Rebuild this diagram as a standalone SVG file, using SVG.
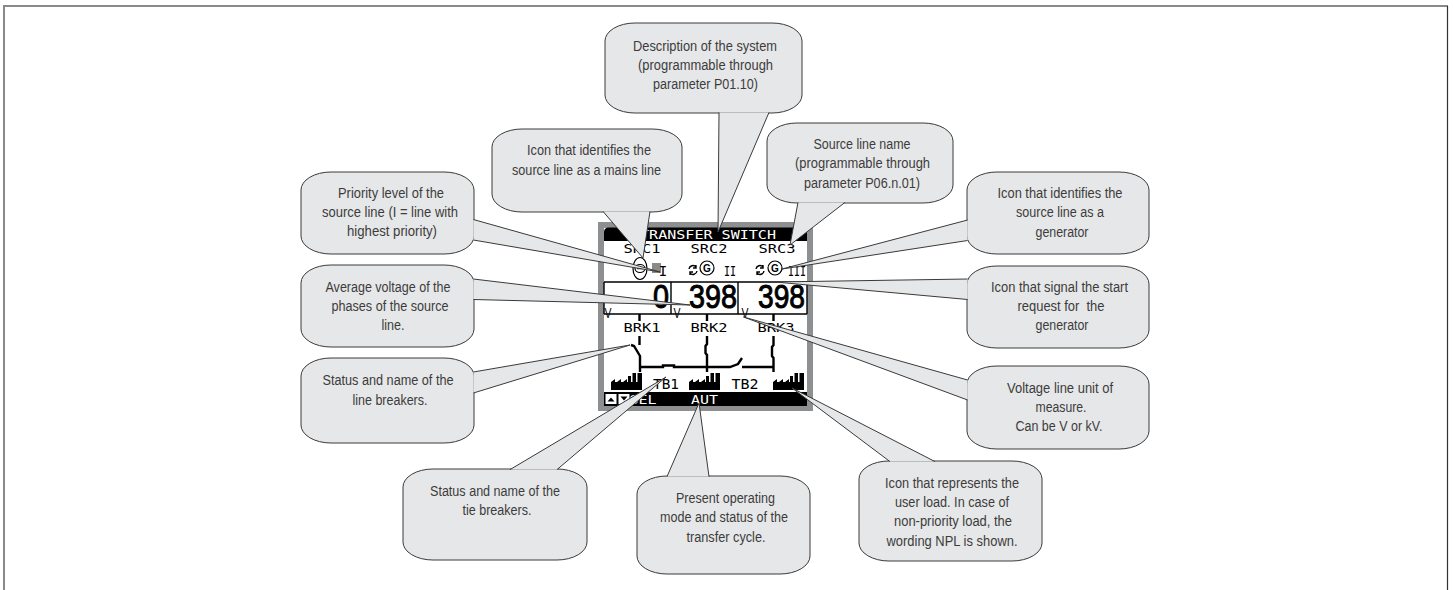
<svg xmlns="http://www.w3.org/2000/svg" width="1453" height="590" viewBox="0 0 1453 590">
<style>
.body{fill:#e6e7e8;stroke:#3a3a3a;stroke-width:1}
.wedge{fill:#e6e7e8;stroke:#3a3a3a;stroke-width:1;stroke-linejoin:miter}
.t{font-family:"Liberation Sans Narrow","Liberation Sans",sans-serif;font-size:14px;fill:#3c3c3c;text-anchor:middle}
.m{font-family:"DejaVu Sans Mono","Liberation Mono",monospace;font-size:12px;fill:#000;text-anchor:middle}
.m13{font-size:13px}
.m14{font-size:14px}
.w{fill:#fff}
.n{font-family:"Liberation Sans",sans-serif;font-size:34px;fill:#000;stroke:#000;stroke-width:1;text-anchor:end}
.v{font-family:"Liberation Sans",sans-serif;font-size:14px;fill:#000;text-anchor:middle}
.g{font-family:"Liberation Sans",sans-serif;font-size:10px;font-weight:700;fill:#000;text-anchor:middle}
.l{fill:none;stroke:#000;stroke-width:1.4}
.b{fill:none;stroke:#000;stroke-width:2.4}
</style>
<defs>
<path id="factory" d="M0 17V9L4 6V9H6L10 6V9H12L16 6V9H17V3H20V9H21.500V0H25V9H26.500V0H31V17Z" fill="#000"/>
<path id="rot" d="M-4 -1A4 4 0 0 1 3 -3M3 -5V-2H0M4 1A4 4 0 0 1 -3 3M-3 5V2H0" fill="none" stroke="#000" stroke-width="1.4"/>
</defs>

<g id="frame">
<path d="M4 590V6H1448" fill="none" stroke="#8a8a8a" stroke-width="2"/>
<path d="M1447.500 6V590" fill="none" stroke="#333" stroke-width="1.2"/>
</g>

<g id="lcd">
<rect x="598" y="222" width="215" height="189" fill="#8e8f91"/>
<rect x="604" y="228" width="203" height="178" fill="#fff"/>
<path d="M609 227.500H802Q807 227.500 807 232V241H604V232Q604 227.500 609 227.500Z" fill="#000"/>
<text class="m w" x="708" y="239" textLength="136" lengthAdjust="spacingAndGlyphs">TRANSFER SWITCH</text>
<text class="m" x="642" y="253" textLength="37" lengthAdjust="spacingAndGlyphs">SRC1</text>
<text class="m" x="709" y="253" textLength="37" lengthAdjust="spacingAndGlyphs">SRC2</text>
<text class="m" x="777" y="253" textLength="37" lengthAdjust="spacingAndGlyphs">SRC3</text>
<ellipse cx="640" cy="268.500" rx="7" ry="11" fill="#fff" stroke="#000" stroke-width="1.2"/>
<ellipse cx="640" cy="268.500" rx="5" ry="4" fill="none" stroke="#000" stroke-width="1.2"/>
<path d="M637 268.500H643" stroke="#000" stroke-width="1.400"/>
<rect x="652" y="263" width="9" height="10" fill="#8a8a8a"/>
<text class="m m14" x="663" y="276">I</text>
<use href="#rot" x="693" y="270"/>
<circle cx="707" cy="268" r="7" fill="#fff" stroke="#000" stroke-width="1.2"/>
<text class="g" x="707" y="272">G</text>
<text class="m m14" x="730" y="276" textLength="12" lengthAdjust="spacingAndGlyphs">II</text>
<use href="#rot" x="760" y="270"/>
<circle cx="775" cy="268" r="7" fill="#fff" stroke="#000" stroke-width="1.2"/>
<text class="g" x="775" y="272">G</text>
<text class="m m14" x="797" y="276" textLength="18" lengthAdjust="spacingAndGlyphs">III</text>
<path class="l" d="M604 282H807V314M671 282V314M738 282V314M604 282V314M604 314H807"/>
<text class="n" x="669" y="308" textLength="16" lengthAdjust="spacingAndGlyphs">0</text>
<text class="n" x="737" y="308" textLength="48" lengthAdjust="spacingAndGlyphs">398</text>
<text class="n" x="805" y="308" textLength="47" lengthAdjust="spacingAndGlyphs">398</text>
<text class="v" x="608" y="318" textLength="7" lengthAdjust="spacingAndGlyphs">V</text>
<text class="v" x="677" y="318" textLength="7" lengthAdjust="spacingAndGlyphs">V</text>
<text class="v" x="745" y="318" textLength="7" lengthAdjust="spacingAndGlyphs">V</text>
<text class="m m13" x="642" y="332" textLength="37" lengthAdjust="spacingAndGlyphs">BRK1</text>
<text class="m m13" x="709" y="332" textLength="37" lengthAdjust="spacingAndGlyphs">BRK2</text>
<text class="m m13" x="776" y="332" textLength="37" lengthAdjust="spacingAndGlyphs">BRK3</text>
<path class="b" d="M639.500 314V321M639.500 336V345M631 345L634 346L640 356V372"/>
<path class="b" d="M707 314V321M707 336V344L705.500 346V353L707 355V372"/>
<path class="b" d="M773.500 314V321M773.500 336V345L772 347V356L773.500 358V372"/>
<path class="b" d="M640 367H663V365.500H674V367H730L738 364L742 358M742 367H773.500"/>
<use href="#factory" x="611" y="373"/>
<use href="#factory" x="689" y="373"/>
<use href="#factory" x="773" y="373"/>
<text class="m m14" x="666" y="389" textLength="26" lengthAdjust="spacingAndGlyphs">TB1</text>
<text class="m m14" x="745" y="389" textLength="27" lengthAdjust="spacingAndGlyphs">TB2</text>
<rect x="604" y="392" width="203" height="14" fill="#000"/>
<rect x="605.500" y="394" width="11" height="10" fill="#fff"/>
<path d="M607.500 401.500L611 397.500L614.500 401.500Z" fill="#000"/>
<rect x="618.500" y="394" width="11" height="10" fill="#fff"/>
<path d="M620.500 396.500L624 400.500L627.500 396.500Z" fill="#000"/>
<text class="m m13 w" x="643" y="403.500" textLength="27" lengthAdjust="spacingAndGlyphs">SEL</text>
<text class="m m13 w" x="704.500" y="403.500" textLength="27" lengthAdjust="spacingAndGlyphs">AUT</text>
</g>

<g id="node-description">
<path class="body" d="M635 23H772A30 18 0 0 1 802 41V95A30 18 0 0 1 772 113H635A30 18 0 0 1 605 95V41A30 18 0 0 1 635 23Z"/>
<text class="t" x="705" y="51" textLength="144" lengthAdjust="spacingAndGlyphs">Description of the system</text>
<text class="t" x="705.500" y="70" textLength="135" lengthAdjust="spacingAndGlyphs">(programmable through</text>
<text class="t" x="705.500" y="89" textLength="105" lengthAdjust="spacingAndGlyphs">parameter P01.10)</text>
</g>
<g id="node-mains">
<path class="body" d="M522 129H652A30 18 0 0 1 682 147V194A30 18 0 0 1 652 212H522A30 18 0 0 1 492 194V147A30 18 0 0 1 522 129Z"/>
<text class="t" x="589" y="155" textLength="124" lengthAdjust="spacingAndGlyphs">Icon that identifies the</text>
<text class="t" x="586.500" y="175" textLength="149" lengthAdjust="spacingAndGlyphs">source line as a mains line</text>
</g>
<g id="node-source-name">
<path class="body" d="M797 123H923A30 18 0 0 1 953 141V185A30 18 0 0 1 923 203H797A30 18 0 0 1 767 185V141A30 18 0 0 1 797 123Z"/>
<text class="t" x="862" y="149" textLength="97" lengthAdjust="spacingAndGlyphs">Source line name</text>
<text class="t" x="862.500" y="168" textLength="135" lengthAdjust="spacingAndGlyphs">(programmable through</text>
<text class="t" x="862" y="188" textLength="116" lengthAdjust="spacingAndGlyphs">parameter P06.n.01)</text>
</g>
<g id="node-priority">
<path class="body" d="M331 172H444A30 18 0 0 1 474 190V236A30 18 0 0 1 444 254H331A30 18 0 0 1 301 236V190A30 18 0 0 1 331 172Z"/>
<text class="t" x="391" y="198" textLength="106" lengthAdjust="spacingAndGlyphs">Priority level of the</text>
<text class="t" x="390" y="217" textLength="136" lengthAdjust="spacingAndGlyphs">source line (I = line with</text>
<text class="t" x="392" y="236" textLength="90" lengthAdjust="spacingAndGlyphs">highest priority)</text>
</g>
<g id="node-average">
<path class="body" d="M331 265H444A30 18 0 0 1 474 283V329A30 18 0 0 1 444 347H331A30 18 0 0 1 301 329V283A30 18 0 0 1 331 265Z"/>
<text class="t" x="388" y="292" textLength="125" lengthAdjust="spacingAndGlyphs">Average voltage of the</text>
<text class="t" x="390" y="311" textLength="117" lengthAdjust="spacingAndGlyphs">phases of the source</text>
<text class="t" x="393" y="330" textLength="23" lengthAdjust="spacingAndGlyphs">line.</text>
</g>
<g id="node-line-breakers">
<path class="body" d="M331 358H444A30 18 0 0 1 474 376V425A30 18 0 0 1 444 443H331A30 18 0 0 1 301 425V376A30 18 0 0 1 331 358Z"/>
<text class="t" x="388" y="385" textLength="131" lengthAdjust="spacingAndGlyphs">Status and name of the</text>
<text class="t" x="390" y="405" textLength="75" lengthAdjust="spacingAndGlyphs">line breakers.</text>
</g>
<g id="node-tie-breakers">
<path class="body" d="M433 469H557A30 18 0 0 1 587 487V542A30 18 0 0 1 557 560H433A30 18 0 0 1 403 542V487A30 18 0 0 1 433 469Z"/>
<text class="t" x="495" y="496" textLength="130" lengthAdjust="spacingAndGlyphs">Status and name of the</text>
<text class="t" x="497" y="515" textLength="69" lengthAdjust="spacingAndGlyphs">tie breakers.</text>
</g>
<g id="node-mode">
<path class="body" d="M667 476H780A30 18 0 0 1 810 494V556A30 18 0 0 1 780 574H667A30 18 0 0 1 637 556V494A30 18 0 0 1 667 476Z"/>
<text class="t" x="725.500" y="503" textLength="99" lengthAdjust="spacingAndGlyphs">Present operating</text>
<text class="t" x="724" y="522" textLength="128" lengthAdjust="spacingAndGlyphs">mode and status of the</text>
<text class="t" x="726" y="542" textLength="79" lengthAdjust="spacingAndGlyphs">transfer cycle.</text>
</g>
<g id="node-load">
<path class="body" d="M889 461H1012A30 18 0 0 1 1042 479V543A30 18 0 0 1 1012 561H889A30 18 0 0 1 859 543V479A30 18 0 0 1 889 461Z"/>
<text class="t" x="952" y="488" textLength="134" lengthAdjust="spacingAndGlyphs">Icon that represents the</text>
<text class="t" x="952" y="507" textLength="114" lengthAdjust="spacingAndGlyphs">user load. In case of</text>
<text class="t" x="953" y="526" textLength="118" lengthAdjust="spacingAndGlyphs">non-priority load, the</text>
<text class="t" x="952" y="546" textLength="131" lengthAdjust="spacingAndGlyphs">wording NPL is shown.</text>
</g>
<g id="node-generator">
<path class="body" d="M997 172H1119A30 18 0 0 1 1149 190V236A30 18 0 0 1 1119 254H997A30 18 0 0 1 967 236V190A30 18 0 0 1 997 172Z"/>
<text class="t" x="1060" y="198" textLength="125" lengthAdjust="spacingAndGlyphs">Icon that identifies the</text>
<text class="t" x="1060" y="217" textLength="88" lengthAdjust="spacingAndGlyphs">source line as a</text>
<text class="t" x="1062" y="237" textLength="53" lengthAdjust="spacingAndGlyphs">generator</text>
</g>
<g id="node-start">
<path class="body" d="M997 266H1119A30 18 0 0 1 1149 284V330A30 18 0 0 1 1119 348H997A30 18 0 0 1 967 330V284A30 18 0 0 1 997 266Z"/>
<text class="t" x="1059.500" y="292" textLength="137" lengthAdjust="spacingAndGlyphs">Icon that signal the start</text>
<text class="t" x="1061" y="311" textLength="87" lengthAdjust="spacingAndGlyphs" xml:space="preserve">request for  the</text>
<text class="t" x="1062" y="330" textLength="53" lengthAdjust="spacingAndGlyphs">generator</text>
</g>
<g id="node-unit">
<path class="body" d="M997 366H1119A30 18 0 0 1 1149 384V431A30 18 0 0 1 1119 449H997A30 18 0 0 1 967 431V384A30 18 0 0 1 997 366Z"/>
<text class="t" x="1060" y="393" textLength="106" lengthAdjust="spacingAndGlyphs">Voltage line unit of</text>
<text class="t" x="1061" y="412" textLength="51" lengthAdjust="spacingAndGlyphs">measure.</text>
<text class="t" x="1059" y="431" textLength="87" lengthAdjust="spacingAndGlyphs">Can be V or kV.</text>
</g>

<g id="connectors">
<path class="wedge" d="M719 112.400L718 232L769 112.400"/>
<path class="wedge" d="M603 211.400L643 258L650 211.400"/>
<path class="wedge" d="M798 202.400L790 245L845 202.400"/>
<path class="wedge" d="M473.400 219.500L660 272L473.400 240"/>
<path class="wedge" d="M473.400 279L690 305L473.400 299.500"/>
<path class="wedge" d="M473.400 372L630 345L473.400 393"/>
<path class="wedge" d="M510 469.600L666 377L557 469.600"/>
<path class="wedge" d="M667 476.600L699 403L709 476.600"/>
<path class="wedge" d="M890 461.600L792 388L935 461.600"/>
<path class="wedge" d="M967.600 220L782 269L967.600 240.500"/>
<path class="wedge" d="M967.600 279L775 282L967.600 299.500"/>
<path class="wedge" d="M967.600 380L743.500 317L967.600 400"/>
</g>
</svg>
